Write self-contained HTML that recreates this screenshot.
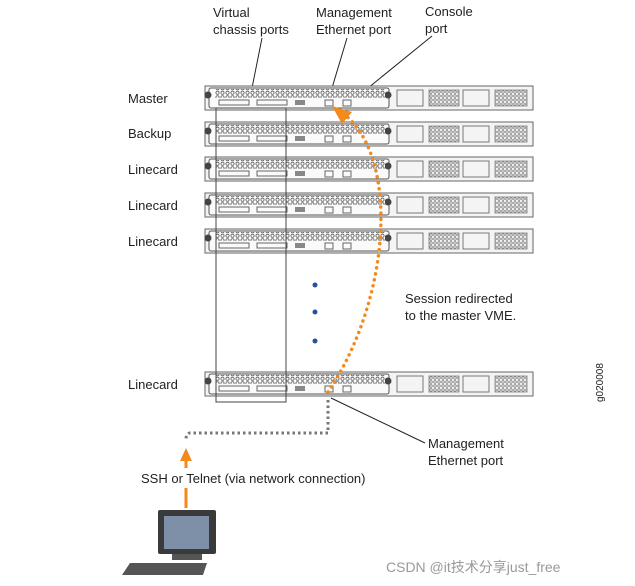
<!DOCTYPE html>
<html><head><style>
body{margin:0;background:#fff}
svg{display:block}
text{font-family:"Liberation Sans",Arial,sans-serif;font-size:13px;fill:#222}
</style></head><body>
<svg width="635" height="586" viewBox="0 0 635 586" xmlns="http://www.w3.org/2000/svg">
<defs>
<pattern id="holes" width="5" height="4.5" patternUnits="userSpaceOnUse">
<rect width="5" height="4.5" fill="#fff"/><circle cx="2.5" cy="2.25" r="1.6" fill="none" stroke="#666" stroke-width="0.9"/>
</pattern>
<pattern id="fan" width="4" height="4" patternUnits="userSpaceOnUse">
<rect width="4" height="4" fill="#fff"/><circle cx="2" cy="2" r="1.3" fill="none" stroke="#777" stroke-width="0.8"/>
</pattern>
<g id="ch">
<rect x="0" y="0" width="328" height="24" fill="#f4f4f4" stroke="#666" stroke-width="1"/>
<rect x="4" y="2" width="180" height="20" rx="2" fill="#fafafa" stroke="#555" stroke-width="1"/>
<circle cx="3" cy="9" r="3.5" fill="#444"/>
<circle cx="183" cy="9" r="3.5" fill="#444"/>
<rect x="10" y="3" width="170" height="9" fill="url(#holes)"/>
<rect x="14" y="14" width="30" height="5" fill="none" stroke="#666"/>
<rect x="52" y="14" width="30" height="5" fill="none" stroke="#666"/>
<rect x="90" y="14" width="10" height="5" fill="#888"/>
<rect x="120" y="14" width="8" height="6" fill="none" stroke="#666"/>
<rect x="138" y="14" width="8" height="6" fill="none" stroke="#666"/>
<rect x="192" y="4" width="26" height="16" fill="none" stroke="#777"/>
<rect x="224" y="4" width="30" height="16" fill="url(#fan)" stroke="#999"/>
<rect x="258" y="4" width="26" height="16" fill="none" stroke="#777"/>
<rect x="290" y="4" width="32" height="16" fill="url(#fan)" stroke="#999"/>
</g>
</defs>

<text x="213" y="17">Virtual</text>
<text x="213" y="34">chassis ports</text>
<text x="316" y="17">Management</text>
<text x="316" y="34">Ethernet port</text>
<text x="425" y="16">Console</text>
<text x="425" y="33">port</text>
<g stroke="#222" stroke-width="1" fill="none">
<line x1="262" y1="38" x2="252" y2="88"/>
<line x1="347" y1="38" x2="332" y2="88"/>
<line x1="432" y1="36" x2="368" y2="88"/>
</g>

<use href="#ch" x="205" y="86"/>
<use href="#ch" x="205" y="122"/>
<use href="#ch" x="205" y="157"/>
<use href="#ch" x="205" y="193"/>
<use href="#ch" x="205" y="229"/>
<use href="#ch" x="205" y="372"/>
<rect x="216" y="108" width="70" height="294" fill="none" stroke="#444" stroke-width="1"/>

<text x="128" y="103">Master</text>
<text x="128" y="138">Backup</text>
<text x="128" y="174">Linecard</text>
<text x="128" y="210">Linecard</text>
<text x="128" y="246">Linecard</text>
<text x="128" y="389">Linecard</text>

<circle cx="315" cy="285" r="2.5" fill="#2a4fa0"/>
<circle cx="315" cy="312" r="2.5" fill="#2a4fa0"/>
<circle cx="315" cy="341" r="2.5" fill="#2a4fa0"/>

<text x="405" y="303">Session redirected</text>
<text x="405" y="320">to the master VME.</text>
<text x="603" y="402" transform="rotate(-90 603 402)" style="font-size:10px">g020008</text>

<path d="M328,392 C390,300 400,160 345,115" fill="none" stroke="#f28a1e" stroke-width="3.5" stroke-dasharray="0.1,6" stroke-linecap="round"/>
<polygon points="332,106 352,112 342,124" fill="#f28a1e"/>

<path d="M328,400 L328,433 L190,433 Q186,433 186,440" fill="none" stroke="#777" stroke-width="3" stroke-dasharray="2.5,3"/>
<line x1="331" y1="398" x2="425" y2="443" stroke="#222"/>
<text x="428" y="448">Management</text>
<text x="428" y="465">Ethernet port</text>

<line x1="186" y1="508" x2="186" y2="488" stroke="#f28a1e" stroke-width="3"/>
<line x1="186" y1="468" x2="186" y2="460" stroke="#f28a1e" stroke-width="3"/>
<polygon points="180,461 192,461 186,448" fill="#f28a1e"/>
<text x="141" y="483">SSH or Telnet (via network connection)</text>

<rect x="158" y="510" width="58" height="44" rx="2" fill="#3a3a3a"/>
<rect x="164" y="516" width="45" height="33" fill="#7e8fa8"/>
<rect x="172" y="554" width="30" height="6" fill="#555"/>
<polygon points="130,563 207,563 203,575 122,575" fill="#555"/>
<text x="386" y="572" style="fill:#999;font-family:'Liberation Sans','Noto Sans CJK SC',sans-serif;font-size:14px">CSDN @it技术分享just_free</text>
</svg>
</body></html>
